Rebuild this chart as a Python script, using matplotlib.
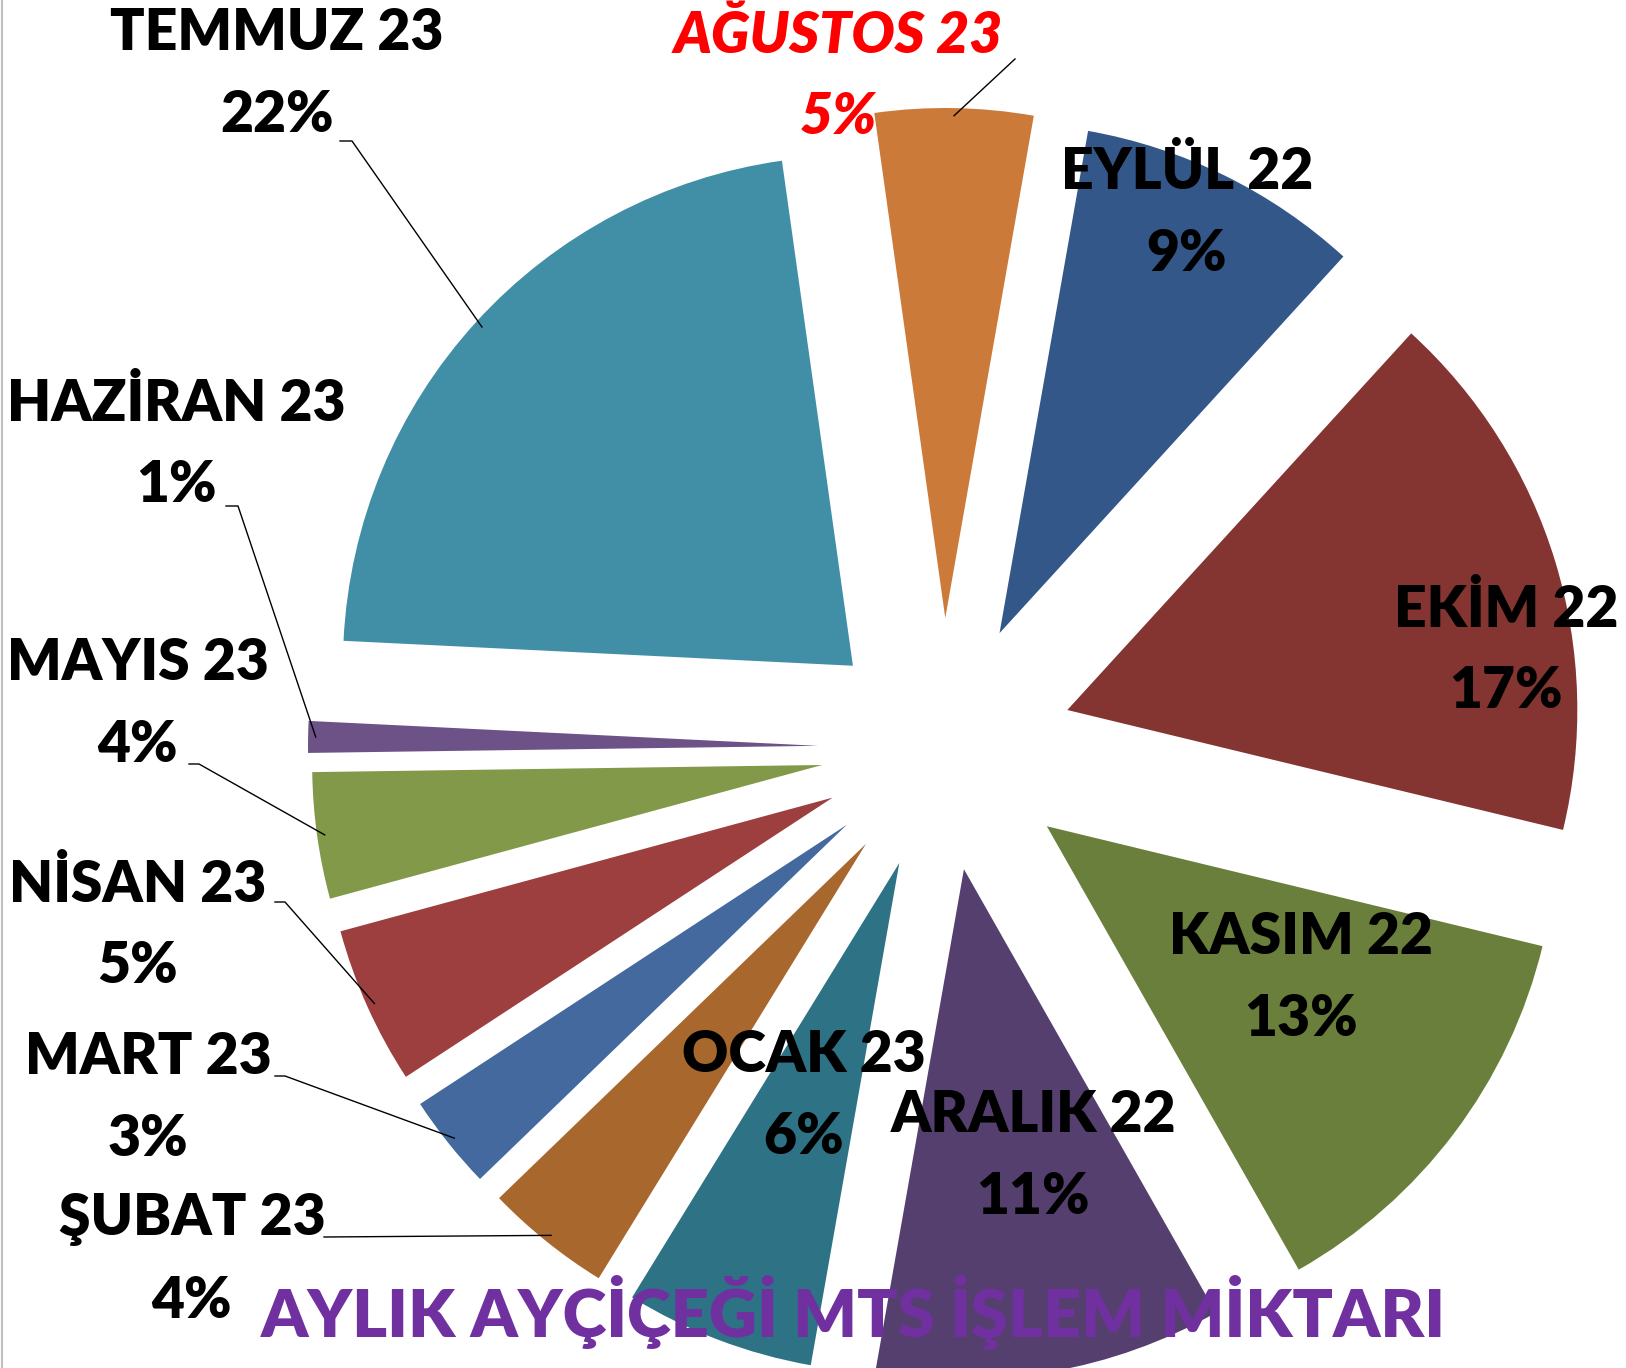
import matplotlib.pyplot as plt
from matplotlib.lines import Line2D
import numpy as np

# Monthly sunflower MTS trade shares (Sep 22 - Aug 23)
months = ['EYLÜL 22', 'EKİM 22', 'KASIM 22', 'ARALIK 22', 'OCAK 23', 'ŞUBAT 23',
          'MART 23', 'NİSAN 23', 'MAYIS 23', 'HAZİRAN 23', 'TEMMUZ 23', 'AĞUSTOS 23']
shares = [9, 17, 13, 11, 6, 4, 3, 5, 4, 1, 22, 5]
colors = ['#34578A', '#843431', '#6A7F3B', '#553F6E', '#2E7285', '#A8672D',
          '#43699E', '#9C3F3E', '#82994A', '#6D5288', '#418FA7', '#CC7A3A']
explode = [128, 130, 130, 123, 123, 123, 123, 121, 122, 125, 122, 130]

W, H = 1626, 1368
plt.rcParams['font.family'] = ['Lato', 'DejaVu Sans']

fig = plt.figure(figsize=(W / 100, H / 100), dpi=100)
ax = fig.add_axes([0, 0, 1, 1])

wedges, _ = ax.pie(shares, colors=colors, explode=explode, radius=510,
                   center=(943, H - 748), startangle=80, counterclock=False,
                   wedgeprops=dict(linewidth=0))
ax.set_xlim(0, W)
ax.set_ylim(0, H)
ax.set_aspect('auto')
ax.axis('off')

# label block centres (pixels from top-left) and leader-line elbows
label_pos = {
    'EYLÜL 22': (1187, 213), 'EKİM 22': (1506, 650), 'KASIM 22': (1301, 978),
    'ARALIK 22': (1033, 1156), 'OCAK 23': (804, 1096), 'ŞUBAT 23': (192, 1260),
    'MART 23': (148, 1098), 'NİSAN 23': (138, 925), 'MAYIS 23': (138, 704),
    'HAZİRAN 23': (176, 444), 'TEMMUZ 23': (277, 74), 'AĞUSTOS 23': (838, 76),
}
leaders = {
    'TEMMUZ 23': [(340, 141), (352, 141)],
    'HAZİRAN 23': [(226, 506), (238, 506)],
    'MAYIS 23': [(189, 764), (199, 764)],
    'NİSAN 23': [(275, 902), (285, 902)],
    'MART 23': [(275, 1076), (285, 1076)],
    'ŞUBAT 23': [(324, 1237)],
    'AĞUSTOS 23': [(1015, 59)],
}

for w, name, share in zip(wedges, months, shares):
    x, y = label_pos[name]
    red = name == 'AĞUSTOS 23'
    ax.text(x, H - y, f'{name}\n{share}%', ha='center', va='center',
            fontsize=41, fontweight='heavy', linespacing=1.68,
            color='#FF0000' if red else 'black',
            fontstyle='italic' if red else 'normal')
    if name in leaders:
        mid = np.deg2rad((w.theta1 + w.theta2) / 2)
        cx, cy = w.center
        ax_, ay_ = cx + 0.985 * w.r * np.cos(mid), cy + 0.985 * w.r * np.sin(mid)
        pts = leaders[name]
        xs = [p[0] for p in pts] + [ax_]
        ys = [H - p[1] for p in pts] + [ay_]
        ax.plot(xs, ys, color='black', lw=1)

fig.text(853 / W, 1 - 1312 / H, 'AYLIK AYÇİÇEĞİ MTS İŞLEM MİKTARI', ha='center',
         va='center', fontsize=48, fontweight='heavy', color='#7030A0')

fig.add_artist(Line2D([1.5 / W, 1.5 / W], [0, 1], color='#BFBFBF', lw=1.5))

fig.savefig('out.png', dpi=100)
